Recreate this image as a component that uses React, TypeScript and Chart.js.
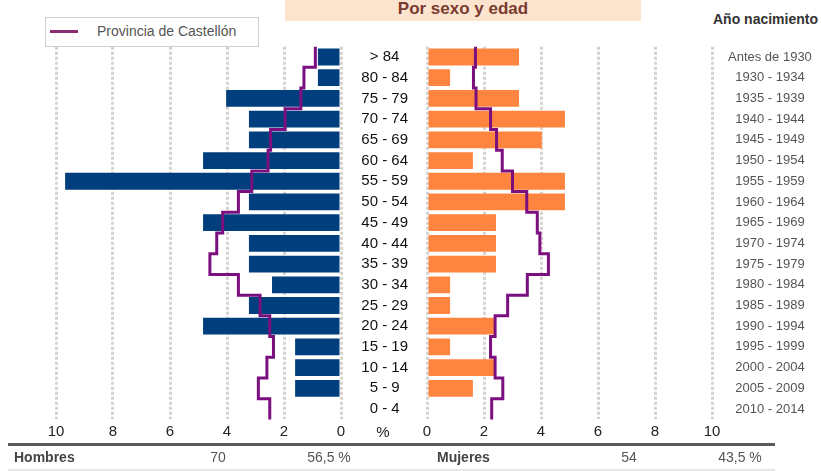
import React, { useEffect, useRef } from 'react';
import { Chart, registerables } from 'chart.js';

Chart.register(...registerables);

const ageGroups = ['> 84', '80 - 84', '75 - 79', '70 - 74', '65 - 69', '60 - 64', '55 - 59', '50 - 54', '45 - 49', '40 - 44', '35 - 39', '30 - 34', '25 - 29', '20 - 24', '15 - 19', '10 - 14', '5 - 9', '0 - 4'];
const birthYears = ['Antes de 1930', '1930 - 1934', '1935 - 1939', '1940 - 1944', '1945 - 1949', '1950 - 1954', '1955 - 1959', '1960 - 1964', '1965 - 1969', '1970 - 1974', '1975 - 1979', '1980 - 1984', '1985 - 1989', '1990 - 1994', '1995 - 1999', '2000 - 2004', '2005 - 2009', '2010 - 2014'];

// % of total population (municipality)
const menPct = [0.81, 0.81, 4.03, 3.23, 3.23, 4.84, 9.68, 3.23, 4.84, 3.23, 3.23, 2.42, 3.23, 4.84, 1.61, 1.61, 1.61, 0];
const womenPct = [3.23, 0.81, 3.23, 4.84, 4.03, 1.61, 4.84, 4.84, 2.42, 2.42, 2.42, 0.81, 0.81, 2.42, 0.81, 2.42, 1.61, 0];

// Provincia de Castellón (%)
const provMenPct = [0.9, 1.3, 1.41, 1.96, 2.47, 2.56, 3.13, 3.6, 4.15, 4.36, 4.6, 3.6, 2.84, 2.5, 2.37, 2.6, 2.9, 2.5];
const provWomenPct = [1.7, 1.63, 1.72, 2.23, 2.44, 2.64, 3.0, 3.5, 3.87, 3.96, 4.26, 3.52, 2.83, 2.39, 2.23, 2.39, 2.66, 2.27];

const axisMin = 0;
const axisMax = 10;
const axisStep = 2;

const summaryLabels = ['Hombres', 'Mujeres'];
const summaryCounts = ['70', '54'];
const summaryPct = ['56,5 %', '43,5 %'];

const FONT = '"Liberation Sans", Arial, Helvetica, sans-serif';
const BLUE = '#003e7e';
const ORANGE = '#fd8540';
const PURPLE = '#7c0f80';
const GRID = '#d6d2cd';

const W = 821;
const H = 471;
const PLOT_TOP = 46.65;
const X_AXIS_H = 51.6;

function stepPoints(values: number[]) {
  const pts: { x: number; y: number }[] = [];
  values.forEach((v, i) => {
    pts.push({ x: v, y: i - 0.5 });
    pts.push({ x: v, y: i + 0.5 });
  });
  return pts;
}

function xScale(reverse: boolean) {
  return {
    type: 'linear',
    min: axisMin,
    max: axisMax,
    reverse,
    offset: false,
    position: 'bottom',
    ticks: { stepSize: axisStep, color: '#222', padding: 3, font: { family: FONT, size: 15 } },
    grid: { color: GRID, lineWidth: 3, drawTicks: false },
    border: { display: false, dash: [3, 2] },
    afterFit: (s: any) => {
      s.height = X_AXIS_H;
    },
  };
}

function lineScale() {
  return {
    type: 'linear',
    axis: 'y',
    display: false,
    offset: false,
    grid: { offset: false },
    min: -0.5,
    max: ageGroups.length - 0.5,
    reverse: true,
  };
}

function makeDatasets(values: number[], prov: number[], color: string) {
  return [
    {
      type: 'bar',
      data: values,
      xAxisID: 'x',
      yAxisID: 'y',
      backgroundColor: color,
      grouped: false,
      barPercentage: 0.81,
      categoryPercentage: 1,
      order: 1,
    },
    {
      type: 'scatter',
      label: 'Provincia de Castellón',
      data: stepPoints(prov),
      indexAxis: 'x',
      grouped: false,
      xAxisID: 'x',
      yAxisID: 'yl',
      showLine: true,
      borderColor: PURPLE,
      backgroundColor: PURPLE,
      borderWidth: 3,
      pointRadius: 0,
      fill: false,
      clip: false,
      order: 0,
    },
  ];
}

function Txt(props: { x: number; y: number; align?: 'left' | 'center'; size: number; bold?: boolean; color: string; children: any }) {
  const { x, y, align = 'center', size, bold, color, children } = props;
  return (
    <div
      style={{
        position: 'absolute',
        left: x,
        top: y,
        transform: align === 'center' ? 'translate(-50%, -50%)' : 'translate(0, -50%)',
        fontFamily: FONT,
        fontSize: size,
        fontWeight: bold ? 'bold' : 'normal',
        color,
        lineHeight: 1,
        whiteSpace: 'nowrap',
      }}
    >
      {children}
    </div>
  );
}

export default function App() {
  const leftRef = useRef<HTMLCanvasElement>(null);
  const rightRef = useRef<HTMLCanvasElement>(null);

  useEffect(() => {
    const common = {
      indexAxis: 'y',
      responsive: false,
      animation: false,
      events: [],
      plugins: { legend: { display: false }, tooltip: { enabled: false }, title: { display: false } },
    };

    const left = new Chart(leftRef.current as HTMLCanvasElement, {
      type: 'bar',
      data: { labels: ageGroups, datasets: makeDatasets(menPct, provMenPct, BLUE) as any },
      options: {
        ...common,
        layout: { padding: { left: 56, right: W - 341, top: PLOT_TOP, bottom: 0 } },
        scales: {
          x: xScale(true),
          y: { type: 'category', display: false, offset: true },
          yl: lineScale(),
        },
      } as any,
    });

    const right = new Chart(rightRef.current as HTMLCanvasElement, {
      type: 'bar',
      data: { labels: ageGroups, datasets: makeDatasets(womenPct, provWomenPct, ORANGE) as any },
      options: {
        ...common,
        layout: { padding: { left: 341, right: 0, top: PLOT_TOP, bottom: 0 } },
        scales: {
          x: xScale(false),
          y: {
            type: 'category',
            position: 'left',
            offset: true,
            grid: { display: false, drawTicks: false },
            border: { display: false },
            ticks: { autoSkip: false, crossAlign: 'center', padding: 19, color: '#111', font: { family: FONT, size: 15 } },
            afterFit: (s: any) => {
              s.width = 86;
            },
          },
          y2: {
            type: 'category',
            labels: birthYears,
            position: 'right',
            offset: true,
            grid: { display: false, drawTicks: false },
            border: { display: false },
            ticks: { autoSkip: false, crossAlign: 'center', padding: 16, color: '#555', font: { family: FONT, size: 13 } },
            afterFit: (s: any) => {
              s.width = 109;
            },
          },
          yl: lineScale(),
        },
      } as any,
    });

    return () => {
      left.destroy();
      right.destroy();
    };
  }, []);

  const canvasStyle: React.CSSProperties = { position: 'absolute', left: 0, top: 0, width: W, height: H };

  return (
    <div style={{ position: 'absolute', left: 0, top: 0, width: W, height: H, background: '#fff', overflow: 'hidden' }}>
      <div style={{ position: 'absolute', left: 285, top: 0, width: 356, height: 21, background: '#fde4cf' }} />
      <Txt x={463} y={8} size={17} bold color="#7a3c2f">Por sexo y edad</Txt>
      <Txt x={713} y={19} align="left" size={14} bold color="#333">Año nacimiento</Txt>

      <div style={{ position: 'absolute', left: 45, top: 17, width: 212, height: 28, border: '1px solid #cfcfcf', background: '#fff' }} />
      <div style={{ position: 'absolute', left: 50, top: 30, width: 28, height: 3, background: '#8b2d73' }} />
      <Txt x={97} y={31} align="left" size={14} color="#555">Provincia de Castellón</Txt>

      <canvas ref={leftRef} width={W} height={H} style={canvasStyle} />
      <canvas ref={rightRef} width={W} height={H} style={canvasStyle} />

      <Txt x={383} y={431} size={15} color="#222">%</Txt>

      <div style={{ position: 'absolute', left: 8, top: 443, width: 767, height: 3, background: '#5a5a5a' }} />
      <div style={{ position: 'absolute', left: 8, top: 469, width: 767, height: 2, background: '#e6e6e6' }} />

      <Txt x={14} y={457} align="left" size={14} bold color="#444">{summaryLabels[0]}</Txt>
      <Txt x={218} y={457} size={14} color="#555">{summaryCounts[0]}</Txt>
      <Txt x={329} y={457} size={14} color="#555">{summaryPct[0]}</Txt>
      <Txt x={437} y={457} align="left" size={14} bold color="#444">{summaryLabels[1]}</Txt>
      <Txt x={629} y={457} size={14} color="#555">{summaryCounts[1]}</Txt>
      <Txt x={740} y={457} size={14} color="#555">{summaryPct[1]}</Txt>
    </div>
  );
}
